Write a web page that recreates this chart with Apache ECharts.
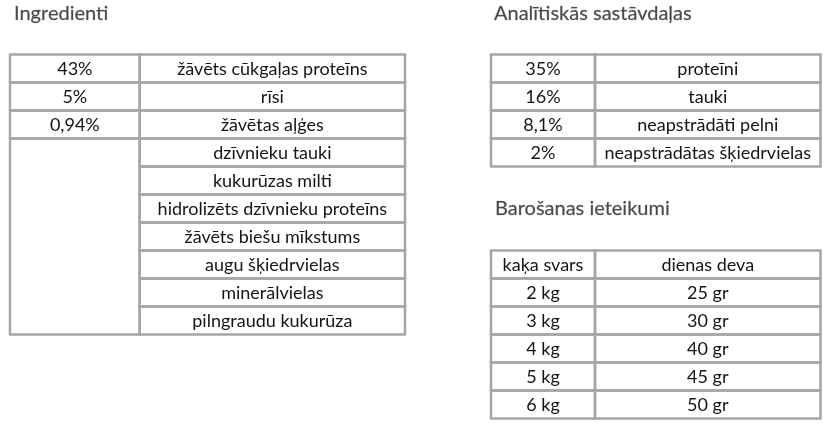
<!DOCTYPE html>
<html>
<head>
<meta charset="utf-8">
<script src="https://cdn.jsdelivr.net/npm/echarts@6/dist/echarts.min.js"></script>
<style>
html,body{margin:0;padding:0;background:#fff;}
#c{width:831px;height:433px;}
</style>
</head>
<body>
<div id="c"></div>
<script>
// ---- data ----
const ingredientsTitle = "Ingredienti";
const ingredientPercents = ["43%", "5%", "0,94%"];
const ingredientNames = [
  "žāvēts cūkgaļas proteīns", "rīsi", "žāvētas aļģes", "dzīvnieku tauki",
  "kukurūzas milti", "hidrolizēts dzīvnieku proteīns", "žāvēts biešu mīkstums",
  "augu šķiedrvielas", "minerālvielas", "pilngraudu kukurūza"
];
const analysisTitle = "Analītiskās sastāvdaļas";
const analysisValues = ["35%", "16%", "8,1%", "2%"];
const analysisNames = ["proteīni", "tauki", "neapstrādāti pelni", "neapstrādātas šķiedrvielas"];
const feedingTitle = "Barošanas ieteikumi";
const feedingHeaders = ["kaķa svars", "dienas deva"];
const catWeights = ["2 kg", "3 kg", "4 kg", "5 kg", "6 kg"];
const dailyPortions = ["25 gr", "30 gr", "40 gr", "45 gr", "50 gr"];

// ---- styles ----
const FONT = 'Lato';
const BORDER = '#a6a6a6';
const TEXT = '#151515';

// build columns: each cell = {start, span, text}
function simpleCells(arr) { return arr.map((t, i) => ({ start: i, span: 1, text: t })); }
const ingrCol1 = simpleCells(ingredientPercents);
if (ingredientNames.length > ingredientPercents.length) {
  ingrCol1.push({ start: ingredientPercents.length, span: ingredientNames.length - ingredientPercents.length, text: "" });
}
const columns = [
  { cells: ingrCol1, rows: ingredientNames.length, grid: { left: 10, top: 54.5, width: 129.7, height: 280 } },
  { cells: simpleCells(ingredientNames), rows: ingredientNames.length, grid: { left: 139.7, top: 54.5, width: 265.3, height: 280 } },
  { cells: simpleCells(analysisValues), rows: analysisValues.length, grid: { left: 491, top: 54.5, width: 104, height: 112 } },
  { cells: simpleCells(analysisNames), rows: analysisNames.length, grid: { left: 595, top: 54.5, width: 225.5, height: 112 } },
  { cells: simpleCells([feedingHeaders[0]].concat(catWeights)), rows: catWeights.length + 1, grid: { left: 491, top: 250.5, width: 104, height: 168 } },
  { cells: simpleCells([feedingHeaders[1]].concat(dailyPortions)), rows: dailyPortions.length + 1, grid: { left: 595, top: 250.5, width: 225.5, height: 168 } }
];

const grids = [], xAxes = [], yAxes = [], series = [];
columns.forEach((col, ci) => {
  grids.push(Object.assign({ containLabel: false }, col.grid));
  xAxes.push({ gridIndex: ci, type: 'value', min: 0, max: 1, show: false });
  yAxes.push({ gridIndex: ci, type: 'value', min: 0, max: col.rows, inverse: true, show: false });
  const cells = col.cells;
  series.push({
    type: 'custom',
    xAxisIndex: ci,
    yAxisIndex: ci,
    silent: true,
    animation: false,
    encode: { y: 0 },
    data: cells.map(c => [c.start, c.span]),
    renderItem: function (params, api) {
      const r0 = api.value(0), span = api.value(1);
      const p0 = api.coord([0, r0]);
      const p1 = api.coord([1, r0 + span]);
      const x = p0[0], y = p0[1], w = p1[0] - p0[0], h = p1[1] - p0[1];
      return {
        type: 'group',
        children: [
          { type: 'rect', shape: { x: x, y: y, width: w, height: h },
            style: { fill: 'none', stroke: BORDER, lineWidth: 2.5 } },
          { type: 'text', style: { text: cells[params.dataIndex].text, x: x + w / 2, y: y + h / 2 + 1,
              align: 'center', verticalAlign: 'middle', fill: TEXT,
              fontFamily: FONT, fontSize: 18 } }
        ]
      };
    }
  });
});

const titleStyle = { fontFamily: FONT, fontSize: 20, fontWeight: 'normal', color: '#4a4a4a',
  textBorderColor: 'rgba(74,74,74,0.35)', textBorderWidth: 0.6 };
const chart = echarts.init(document.getElementById('c'), null, { renderer: 'canvas' });
chart.setOption({
  backgroundColor: '#fff',
  animation: false,
  title: [
    { text: ingredientsTitle, left: 14, top: 4, padding: 0, textStyle: titleStyle },
    { text: analysisTitle, left: 494, top: 4, padding: 0, textStyle: titleStyle },
    { text: feedingTitle, left: 495, top: 199, padding: 0, textStyle: titleStyle }
  ],
  grid: grids,
  xAxis: xAxes,
  yAxis: yAxes,
  series: series
});
</script>
</body>
</html>
